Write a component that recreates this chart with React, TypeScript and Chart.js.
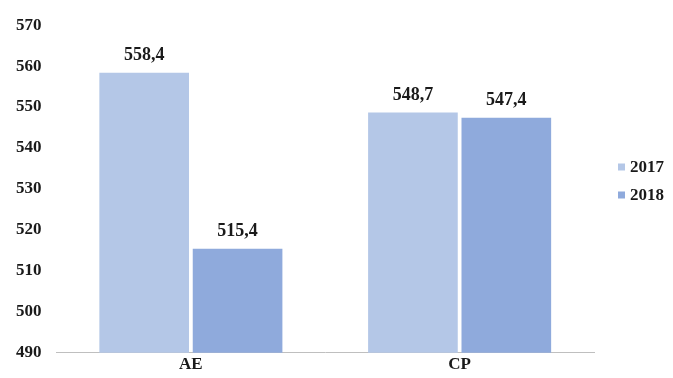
import React, { useEffect, useRef } from "react";
import { Chart, registerables } from "chart.js";

Chart.register(...registerables);

const categories = ["AE", "CP"];
const seriesNames = ["2017", "2018"];
const values2017 = [558.4, 548.7];
const values2018 = [515.4, 547.4];
const colors = ["#b4c7e7", "#8faadc"];
const yMin = 490;
const yMax = 570;
const yStep = 10;

const FONT = "'Liberation Serif', 'Times New Roman', serif";

const valueLabels = {
  id: "valueLabels",
  afterDatasetsDraw(chart: any) {
    const ctx = chart.ctx;
    ctx.save();
    ctx.font = `bold 18px ${FONT}`;
    ctx.fillStyle = "#1a1a1a";
    ctx.textAlign = "center";
    ctx.textBaseline = "bottom";
    chart.data.datasets.forEach((ds: any, i: number) => {
      const meta = chart.getDatasetMeta(i);
      meta.data.forEach((bar: any, j: number) => {
        const v = ds.data[j] as number;
        ctx.fillText(v.toFixed(1).replace(".", ","), bar.x, bar.y - 8);
      });
    });
    ctx.restore();
  },
};

const sideLegend = {
  id: "sideLegend",
  afterDraw(chart: any) {
    const ctx = chart.ctx;
    const area = chart.chartArea;
    ctx.save();
    ctx.font = `bold 17px ${FONT}`;
    ctx.textAlign = "left";
    ctx.textBaseline = "middle";
    const x0 = area.right + 24;
    const yc = 181;
    const gap = 28;
    const n = chart.data.datasets.length;
    chart.data.datasets.forEach((ds: any, i: number) => {
      const y = yc + (i - (n - 1) / 2) * gap;
      ctx.fillStyle = ds.backgroundColor;
      ctx.fillRect(x0, y - 3.5, 7, 7);
      ctx.fillStyle = "#1a1a1a";
      ctx.fillText(ds.label, x0 + 12, y + 1);
    });
    ctx.restore();
  },
};

export default function App() {
  const ref = useRef<HTMLCanvasElement | null>(null);
  useEffect(() => {
    if (!ref.current) return;
    const chart = new Chart(ref.current, {
      type: "bar",
      data: {
        labels: categories,
        datasets: [
          { label: seriesNames[0], data: values2017, backgroundColor: colors[0] },
          { label: seriesNames[1], data: values2018, backgroundColor: colors[1] },
        ],
      },
      options: {
        animation: false,
        responsive: false,
        devicePixelRatio: 1,
        layout: { padding: { top: 14, left: 1, right: 79, bottom: 0 } },
        datasets: {
          bar: { categoryPercentage: 0.695, barPercentage: 0.96 },
        },
        plugins: {
          legend: { display: false },
          tooltip: { enabled: false },
        },
        scales: {
          x: {
            grid: { display: false, drawTicks: false },
            border: { display: true, color: "#bfbfbf", width: 1 },
            ticks: {
              color: "#1a1a1a",
              padding: 2,
              font: { family: FONT, size: 17, weight: "bold" },
            },
          },
          y: {
            min: yMin,
            max: yMax,
            grid: { display: false, drawTicks: false },
            border: { display: false },
            ticks: {
              stepSize: yStep,
              padding: 15,
              color: "#1a1a1a",
              font: { family: FONT, size: 17, weight: "bold" },
            },
          },
        },
      },
      plugins: [valueLabels, sideLegend],
    });
    return () => chart.destroy();
  }, []);
  return (
    <div style={{ position: "fixed", left: 0, top: 0, width: 673, height: 378, background: "#fff" }}>
      <canvas ref={ref} width={673} height={378} />
    </div>
  );
}
